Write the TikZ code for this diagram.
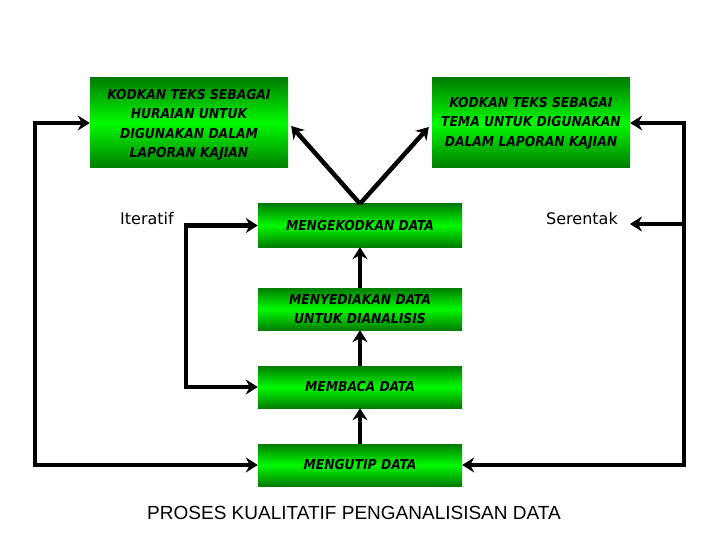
\documentclass[tikz,border=0pt]{standalone}
\usepackage{fontspec}
\setmainfont{Liberation Sans}
\newfontfamily\boxfont{DejaVu Sans Condensed}
\newfontfamily\lblfont{DejaVu Sans}
\usetikzlibrary{arrows.meta}
\definecolor{gdark}{RGB}{0,125,0}
\definecolor{gbright}{RGB}{0,250,0}
\tikzset{
  gbox/.style={rectangle, inner sep=0pt, align=center,
    top color=gdark, bottom color=gdark, middle color=gbright,
    font=\boxfont\bfseries\itshape\fontsize{13.7}{19.5}\selectfont},
  conn/.style={line width=4.5pt, -{Stealth[length=12pt,width=15pt,inset=4pt]}},
  conn2/.style={line width=4.5pt, {Stealth[length=12pt,width=15pt,inset=4pt]}-{Stealth[length=12pt,width=15pt,inset=4pt]}},
  lbl/.style={font=\lblfont\fontsize{16}{18}\selectfont, inner sep=0pt}
}
\begin{document}
\begin{tikzpicture}[x=1pt,y=-1pt]
\useasboundingbox[fill=white] (0,0) rectangle (720,540);
\node[gbox, minimum width=198pt, minimum height=90pt] (A) at (189,123) {\\[-6pt]KODKAN TEKS SEBAGAI\\HURAIAN UNTUK\\DIGUNAKAN DALAM\\LAPORAN KAJIAN};
\node[gbox, minimum width=198pt, minimum height=90pt] (B) at (531,123) {KODKAN TEKS SEBAGAI\\TEMA UNTUK DIGUNAKAN\\DALAM LAPORAN KAJIAN};
\node[gbox, minimum width=204pt, minimum height=43pt] (K) at (360,225.5) {MENGEKODKAN DATA};
\node[gbox, minimum width=204pt, minimum height=42pt] (S) at (360,309) {MENYEDIAKAN DATA\\UNTUK DIANALISIS};
\node[gbox, minimum width=204pt, minimum height=42pt] (M) at (360,387) {MEMBACA DATA};
\node[gbox, minimum width=204pt, minimum height=42pt] (U) at (360,465) {MENGUTIP DATA};
\node[lbl] (it) at (147,219) {Iteratif};
\node[lbl] (se) at (582,219) {Serentak};
\node[font=\fontsize{19}{21}\selectfont, inner sep=0pt] (title) at (354,513) {PROSES KUALITATIF PENGANALISISAN DATA};
\coordinate (sa) at (630,224);
% vertical flow
\draw[conn] (U.north) -- (M.south);
\draw[conn] (M.north) -- (S.south);
\draw[conn] (S.north) -- (K.south);
% V to the top boxes
\draw[conn] (K.north) -- ([xshift=3pt,yshift=-3pt]A.east);
\draw[conn] (K.north) -- ([xshift=-3pt,yshift=-4pt]B.west);
% iterative bracket
\draw[conn2] (K.west) -- ++(-72,0) |- (M.west);
% outer loops
\draw[conn2] (A.west) -- ++(-55,0) |- (U.west);
\draw[conn2] (B.east) -- ++(54,0) |- (U.east);
\draw[conn] (684,224) -- (sa);
\end{tikzpicture}
\end{document}
